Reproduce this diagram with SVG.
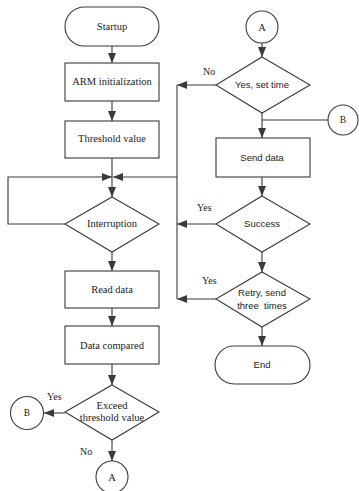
<svg xmlns="http://www.w3.org/2000/svg" width="359" height="491" viewBox="0 0 359 491">
<defs>
<marker id="ah" markerUnits="userSpaceOnUse" markerWidth="10" markerHeight="8" refX="10" refY="4" orient="auto">
<path d="M0,0 L10,4 L0,8 z" fill="#3a3a3a"/>
</marker>
<style>
.s{fill:#fff;stroke:#3a3a3a;stroke-width:1.1}
.c{fill:none;stroke:#3a3a3a;stroke-width:1.1}
.a{fill:none;stroke:#3a3a3a;stroke-width:1.1;marker-end:url(#ah)}
.t{font-family:"Liberation Serif",serif;font-size:10.5px;fill:#222;text-anchor:middle}
.u{font-family:"Liberation Sans",sans-serif;font-size:9.5px;fill:#222;text-anchor:middle}
.l{font-family:"Liberation Serif",serif;font-size:10px;fill:#222}
</style>
</defs>
<rect width="359" height="491" fill="#fff"/>
<g id="connectors">
<path class="a" d="M112,46 V63"/>
<path class="a" d="M112,101 V121"/>
<path class="a" d="M112,158 V197"/>
<path class="a" d="M65,224 H8 V177 H112"/>
<path class="a" d="M177,177 H113"/>
<path class="c" d="M177,85 V299"/>
<path class="a" d="M112,252 V271"/>
<path class="a" d="M112,308 V326"/>
<path class="a" d="M112,364 V385"/>
<path class="a" d="M65,413 H44"/>
<path class="a" d="M112,440 V461"/>
<path class="a" d="M262,43 V57"/>
<path class="a" d="M216,85 H177"/>
<path class="a" d="M262,113 V138"/>
<path class="c" d="M262,120 H328"/>
<path class="a" d="M262,177 V196"/>
<path class="a" d="M216,224 H177"/>
<path class="a" d="M262,252 V272"/>
<path class="a" d="M216,299 H177"/>
<path class="a" d="M262,327 V346"/>
<text class="l" x="47" y="400">Yes</text>
<text class="l" x="80" y="455">No</text>
<text class="l" x="203" y="75">No</text>
<text class="l" x="197" y="211">Yes</text>
<text class="l" x="202" y="284">Yes</text>
</g>
<g id="startup"><rect class="s" x="65" y="7" width="94" height="39" rx="19.5"/><text class="t" x="112" y="30">Startup</text></g>
<g id="arm"><rect class="s" x="65" y="63" width="94" height="38"/><text class="t" x="112" y="85">ARM initialization</text></g>
<g id="threshold"><rect class="s" x="65" y="121" width="94" height="37"/><text class="t" x="112" y="142">Threshold value</text></g>
<g id="interruption"><path class="s" d="M112,197 L159,224 L112,252 L65,224 Z"/><text class="t" x="112" y="227">Interruption</text></g>
<g id="readdata"><rect class="s" x="65" y="271" width="94" height="37"/><text class="t" x="112" y="293">Read data</text></g>
<g id="datacompared"><rect class="s" x="65" y="326" width="94" height="38"/><text class="t" x="112" y="349">Data compared</text></g>
<g id="exceed"><path class="s" d="M112,385 L159,412 L112,440 L65,412 Z"/><text class="t" x="112" y="409">Exceed</text><text class="t" x="112" y="421">threshold value</text></g>
<g id="b-left"><circle class="s" cx="27" cy="413" r="16.5"/><text class="t" x="27" y="416" style="font-size:9.5px">B</text></g>
<g id="a-bottom"><circle class="s" cx="112" cy="477" r="16"/><text class="t" x="112" y="481">A</text></g>
<g id="a-top"><circle class="s" cx="262" cy="27" r="16"/><text class="t" x="262" y="31">A</text></g>
<g id="settime"><path class="s" d="M262,57 L310,85 L262,113 L216,85 Z"/><text class="u" x="262" y="88">Yes, set time</text></g>
<g id="b-right"><circle class="s" cx="343" cy="120" r="15"/><text class="t" x="343" y="123" style="font-size:9.5px">B</text></g>
<g id="senddata"><rect class="s" x="216" y="138" width="94" height="39"/><text class="u" x="262" y="161">Send data</text></g>
<g id="success"><path class="s" d="M262,196 L310,224 L262,252 L216,224 Z"/><text class="u" x="262" y="227">Success</text></g>
<g id="retry"><path class="s" d="M262,272 L310,299 L262,327 L216,299 Z"/><text class="u" x="262" y="296">Retry, send</text><text class="u" x="262" y="309" style="white-space:pre" xml:space="preserve">three  times</text></g>
<g id="end"><rect class="s" x="215" y="346" width="95" height="38" rx="19"/><text class="u" x="262" y="368">End</text></g>
</svg>
